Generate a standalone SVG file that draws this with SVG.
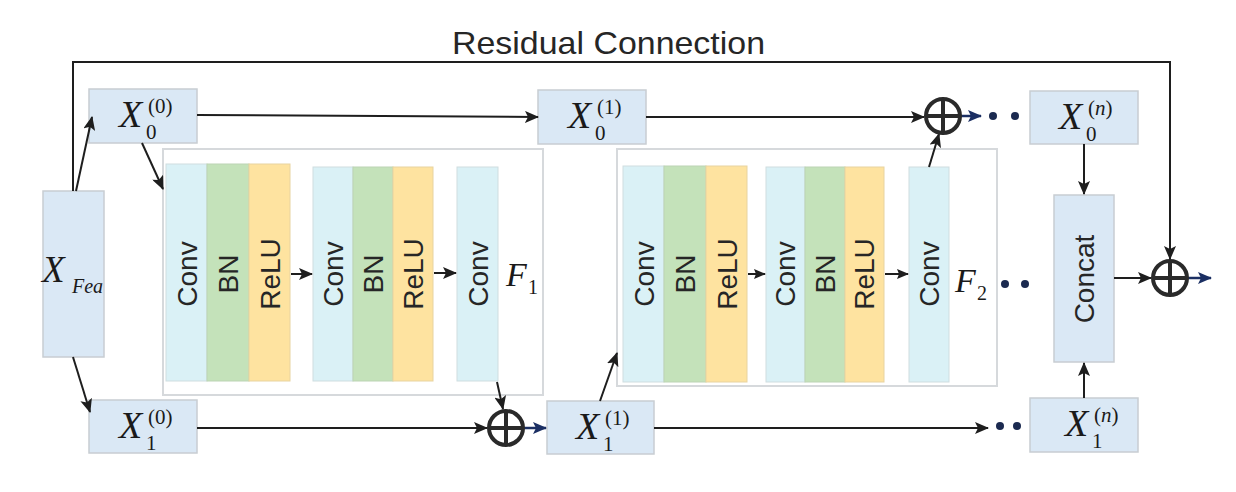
<svg xmlns="http://www.w3.org/2000/svg" width="1236" height="492" viewBox="0 0 1236 492">
<style>
.node{fill:#dae8f5;stroke:#c8cdd2;stroke-width:1.5}
.frame{fill:#fff;stroke:#d6d9dc;stroke-width:2}
.conv{fill:#daf1f6;stroke:#cfdde0;stroke-width:1}
.bn{fill:#c4e2ba;stroke:#bcd4b4;stroke-width:1}
.relu{fill:#fee3a0;stroke:#e8d3a0;stroke-width:1}
.lay{font-family:"Liberation Sans",Arial,sans-serif;font-size:28px;fill:#262626}
.mx{font-family:"Liberation Serif","Times New Roman",serif;font-style:italic;fill:#1a1a1a}
.mn{font-family:"Liberation Serif","Times New Roman",serif;fill:#1a1a1a}
.ln{stroke:#1e1e1e;stroke-width:2;fill:none}
.blue{stroke:#1b2f63;stroke-width:2.5;fill:none}
.plus{fill:#fff;stroke:#2a2a2a;stroke-width:4}
.dot{fill:#1b2a50}
.title{font-family:"Liberation Sans",Arial,sans-serif;font-size:32px;fill:#262626}
</style>
<defs>
<marker id="ah" markerUnits="userSpaceOnUse" markerWidth="14" markerHeight="12" refX="13" refY="6" orient="auto"><path d="M0,0 L14,6 L0,12 L3,6 Z" fill="#1e1e1e"/></marker>
<marker id="ahs" markerUnits="userSpaceOnUse" markerWidth="12" markerHeight="10" refX="11" refY="5" orient="auto"><path d="M0,0 L12,5 L0,10 L2,5 Z" fill="#1e1e1e"/></marker>
<marker id="ahb" markerUnits="userSpaceOnUse" markerWidth="14" markerHeight="12" refX="13" refY="6" orient="auto"><path d="M0,0 L14,6 L0,12 L3,6 Z" fill="#1b2f63"/></marker>
</defs>

<text class="title" x="452" y="54" textLength="313" lengthAdjust="spacingAndGlyphs">Residual Connection</text>

<g id="frame1">
<rect class="frame" x="163" y="149" width="380" height="246"/>
<rect class="conv" x="166" y="164" width="41" height="217"/>
<rect class="bn" x="207" y="164" width="42" height="217"/>
<rect class="relu" x="249" y="164" width="41" height="217"/>
<rect class="conv" x="313" y="167" width="40" height="214"/>
<rect class="bn" x="353" y="167" width="40" height="214"/>
<rect class="relu" x="393" y="167" width="40" height="214"/>
<rect class="conv" x="457" y="167" width="41" height="214"/>
<text class="lay" transform="translate(197,274) rotate(-90)" text-anchor="middle">Conv</text>
<text class="lay" transform="translate(238,274) rotate(-90)" text-anchor="middle">BN</text>
<text class="lay" transform="translate(280,274) rotate(-90)" text-anchor="middle">ReLU</text>
<text class="lay" transform="translate(343,274) rotate(-90)" text-anchor="middle">Conv</text>
<text class="lay" transform="translate(383,274) rotate(-90)" text-anchor="middle">BN</text>
<text class="lay" transform="translate(423,274) rotate(-90)" text-anchor="middle">ReLU</text>
<text class="lay" transform="translate(488,274) rotate(-90)" text-anchor="middle">Conv</text>
<text class="mx" x="506" y="286" font-size="34">F</text>
<text class="mn" x="528" y="294" font-size="20">1</text>
</g>

<g id="frame2">
<rect class="frame" x="617" y="149" width="380" height="237"/>
<rect class="conv" x="623" y="166" width="41" height="216"/>
<rect class="bn" x="664" y="166" width="42" height="216"/>
<rect class="relu" x="706" y="166" width="41" height="216"/>
<rect class="conv" x="766" y="167" width="39" height="215"/>
<rect class="bn" x="805" y="167" width="40" height="215"/>
<rect class="relu" x="845" y="167" width="39" height="215"/>
<rect class="conv" x="909" y="167" width="40" height="215"/>
<text class="lay" transform="translate(654,274) rotate(-90)" text-anchor="middle">Conv</text>
<text class="lay" transform="translate(695,274) rotate(-90)" text-anchor="middle">BN</text>
<text class="lay" transform="translate(737,274) rotate(-90)" text-anchor="middle">ReLU</text>
<text class="lay" transform="translate(795,274) rotate(-90)" text-anchor="middle">Conv</text>
<text class="lay" transform="translate(835,274) rotate(-90)" text-anchor="middle">BN</text>
<text class="lay" transform="translate(874,274) rotate(-90)" text-anchor="middle">ReLU</text>
<text class="lay" transform="translate(939,274) rotate(-90)" text-anchor="middle">Conv</text>
<text class="mx" x="955" y="292" font-size="34">F</text>
<text class="mn" x="977" y="300" font-size="20">2</text>
<circle class="dot" cx="1005" cy="284" r="4"/>
<circle class="dot" cx="1025" cy="284" r="4"/>
</g>

<g id="xfea">
<rect class="node" x="43" y="191" width="61" height="166"/>
<text class="mx" x="42" y="282" font-size="37">X</text>
<text class="mx" x="72" y="293" font-size="20">Fea</text>
</g>

<g id="x00">
<rect class="node" x="89" y="89" width="108" height="54"/>
<text class="mx" x="119" y="127" font-size="38">X</text>
<text class="mn" x="146" y="139" font-size="21">0</text>
<text class="mn" x="148" y="113" font-size="21">(0)</text>
</g>
<g id="x01">
<rect class="node" x="538" y="90" width="108" height="54"/>
<text class="mx" x="568" y="128" font-size="38">X</text>
<text class="mn" x="595" y="140" font-size="21">0</text>
<text class="mn" x="597" y="114" font-size="21">(1)</text>
</g>
<g id="x0n">
<rect class="node" x="1030" y="91" width="108" height="53"/>
<text class="mx" x="1059" y="129" font-size="38">X</text>
<text class="mn" x="1086" y="141" font-size="21">0</text>
<text class="mn" x="1088" y="115" font-size="21">(<tspan class="mx">n</tspan>)</text>
</g>
<g id="x10">
<rect class="node" x="89" y="400" width="108" height="53"/>
<text class="mx" x="119" y="438" font-size="38">X</text>
<text class="mn" x="146" y="450" font-size="21">1</text>
<text class="mn" x="148" y="424" font-size="21">(0)</text>
</g>
<g id="x11">
<rect class="node" x="547" y="401" width="107" height="53"/>
<text class="mx" x="576" y="439" font-size="38">X</text>
<text class="mn" x="603" y="451" font-size="21">1</text>
<text class="mn" x="605" y="425" font-size="21">(1)</text>
</g>
<g id="x1n">
<rect class="node" x="1030" y="398" width="108" height="54"/>
<text class="mx" x="1065" y="436" font-size="38">X</text>
<text class="mn" x="1092" y="448" font-size="21">1</text>
<text class="mn" x="1094" y="422" font-size="21">(<tspan class="mx">n</tspan>)</text>
</g>
<g id="concat">
<rect class="node" x="1054" y="195" width="60" height="167"/>
<text class="lay" transform="translate(1094,279) rotate(-90)" text-anchor="middle">Concat</text>
</g>

<g id="connectors">
<path class="ln" d="M73,191 L73,62 L1170,62 L1170,259" marker-end="url(#ah)"/>
<path class="ln" d="M76,191 L92,117" marker-end="url(#ah)"/>
<path class="ln" d="M73,357 L90,412" marker-end="url(#ah)"/>
<path class="ln" d="M142,143 L163,189" marker-end="url(#ah)"/>
<path class="ln" d="M197,115 L538,117" marker-end="url(#ah)"/>
<path class="ln" d="M646,117 L924,117" marker-end="url(#ah)"/>
<path class="ln" d="M929,167 L939,134" marker-end="url(#ah)"/>
<path class="ln" d="M497,382 L503,409" marker-end="url(#ah)"/>
<path class="ln" d="M197,428 L487,428" marker-end="url(#ah)"/>
<path class="ln" d="M600,401 L617,353" marker-end="url(#ah)"/>
<path class="ln" d="M654,428 L988,428" marker-end="url(#ah)"/>
<path class="ln" d="M1084,144 L1084,194" marker-end="url(#ah)"/>
<path class="ln" d="M1084,398 L1084,363" marker-end="url(#ah)"/>
<path class="ln" d="M1114,278 L1151,278" marker-end="url(#ah)"/>
<path class="ln" d="M291,274 L312,274" stroke-width="3.5" marker-end="url(#ah)"/>
<path class="ln" d="M434,273 L456,273" stroke-width="3.5" marker-end="url(#ah)"/>
<path class="ln" d="M748,274 L765,274" stroke-width="1.5" marker-end="url(#ahs)"/>
<path class="ln" d="M885,274 L908,274" stroke-width="1.5" marker-end="url(#ahs)"/>
<path class="blue" d="M961,116 L981,116" marker-end="url(#ahb)"/>
<path class="blue" d="M524,428 L546,428" marker-end="url(#ahb)"/>
<path class="blue" d="M1188,278 L1211,278" marker-end="url(#ahb)"/>
<circle class="dot" cx="993" cy="116" r="4"/>
<circle class="dot" cx="1015" cy="116" r="4"/>
<circle class="dot" cx="1000" cy="426" r="4"/>
<circle class="dot" cx="1017" cy="426" r="4"/>
<g id="plus_top"><circle class="plus" cx="943" cy="116" r="17"/><path class="plus" d="M926,116 H960 M943,99 V133"/></g>
<g id="plus_bot"><circle class="plus" cx="506" cy="428" r="17"/><path class="plus" d="M489,428 H523 M506,411 V445"/></g>
<g id="plus_right"><circle class="plus" cx="1170" cy="278" r="17"/><path class="plus" d="M1153,278 H1187 M1170,261 V295"/></g>
</g>
</svg>
